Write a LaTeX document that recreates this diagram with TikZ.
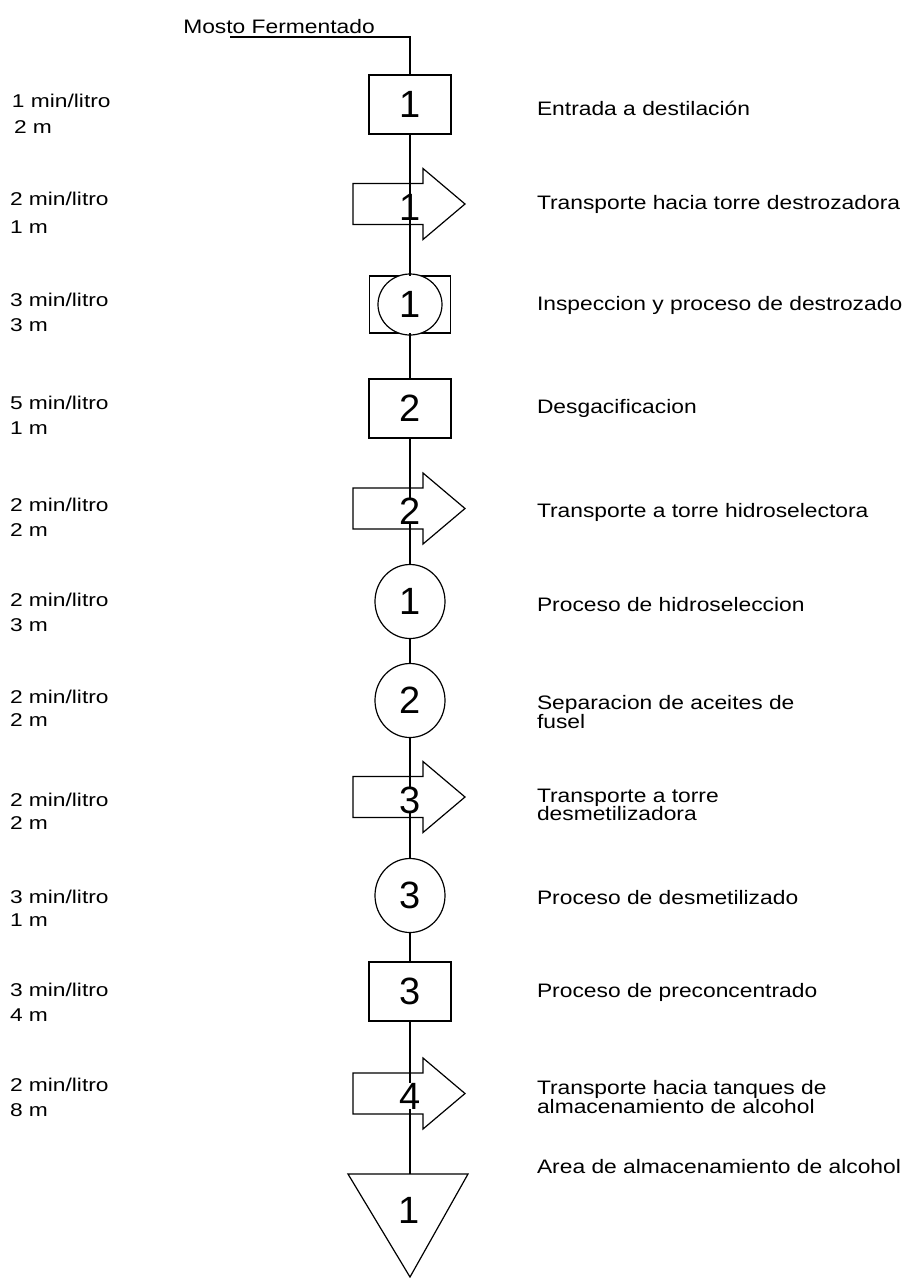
\documentclass[tikz,border=0pt]{standalone}
\usepackage{fontspec}
\setmainfont{Liberation Sans}
\newfontfamily\rightfont[FakeStretch=1.17]{Liberation Sans}
\newfontfamily\leftfont[FakeStretch=1.23]{Liberation Sans}
\usetikzlibrary{shapes.geometric}
\begin{document}
\begin{tikzpicture}[x=1pt,y=-1pt,
  every node/.style={inner sep=0pt, outer sep=0pt},
  lw/.style={line width=1.2pt},
  digitfont/.style={font=\fontsize{38}{38}\selectfont},
  opbox/.style={draw, lw, fill=white, minimum width=82pt, minimum height=59pt, digitfont},
  inspbox/.style={draw, lw, fill=white, minimum width=81pt, minimum height=57pt},
  inspcirc/.style={draw, lw, fill=white, ellipse, minimum width=64pt, minimum height=61pt, digitfont},
  opcirc/.style={draw, lw, fill=white, ellipse, minimum width=70pt, minimum height=74pt, digitfont},
  digit/.style={fill=white, digitfont},
  flow/.style={lw},
  lefttxt/.style={anchor=west, font=\leftfont\fontsize{18.5}{20}\selectfont},
  righttxt/.style={anchor=west, align=left, font=\rightfont\fontsize{19.5}{18.5}\selectfont},
  procarrow/.pic={\draw[lw] (-57,-20.5) -- (13,-20.5) -- (13,-35.5) -- (55,0) -- (13,35.5) -- (13,20.5) -- (-57,20.5) -- cycle;}
]
\useasboundingbox (0,0) rectangle (907,1278);

% title
\node[font=\rightfont\fontsize{19.5}{20}\selectfont] (mosto) at (279,27) {Mosto Fermentado};
\coordinate (start) at (230,37);

% shapes
\node[opbox] (b1) at (410,104.5) {1};
\pic at (410,204) {procarrow};
\node[digit] (a1) at (410,207) {1};
\node[inspbox] (bc1) at (410,304.5) {};
\node[inspcirc] (ic1) at (410,304.5) {1};
\node[opbox] (b2) at (410,408.5) {2};
\pic at (410,508.5) {procarrow};
\node[digit] (a2) at (410,511) {2};
\node[opcirc] (c1) at (410,601.5) {1};
\node[opcirc] (c2) at (410,700.5) {2};
\pic at (410,797) {procarrow};
\node[digit] (a3) at (410,800) {3};
\node[opcirc] (c3) at (410,895.5) {3};
\node[opbox] (b3) at (410,991.5) {3};
\pic at (410,1093.5) {procarrow};
\node[digit] (a4) at (410,1096) {4};
\coordinate (t1top) at (410,1174);
\draw[lw, fill=white] (348,1174) -- (468,1174) -- (410,1277) -- cycle;
\node[digitfont] (t1) at (409,1210) {1};

% flow line
\draw[flow] (start) -| (b1.north);
\draw[flow] (b1) -- (a1);
\draw[flow] (a1) -- (bc1);
\draw[flow] (bc1) -- (b2);
\draw[flow] (b2) -- (a2);
\draw[flow] (a2) -- (c1);
\draw[flow] (c1) -- (c2);
\draw[flow] (c2) -- (a3);
\draw[flow] (a3) -- (c3);
\draw[flow] (c3) -- (b3);
\draw[flow] (b3) -- (a4);
\draw[flow] (a4) -- (t1top);

% left labels
\node[lefttxt] (l1a) at (12,101) {1 min/litro};
\node[lefttxt] (l1b) at (14,127) {2 m};
\node[lefttxt] (l2a) at (10,199) {2 min/litro};
\node[lefttxt] (l2b) at (10,227) {1 m};
\node[lefttxt] (l3a) at (10,300) {3 min/litro};
\node[lefttxt] (l3b) at (10,325) {3 m};
\node[lefttxt] (l4a) at (10,403) {5 min/litro};
\node[lefttxt] (l4b) at (10,428) {1 m};
\node[lefttxt] (l5a) at (10,505) {2 min/litro};
\node[lefttxt] (l5b) at (10,530) {2 m};
\node[lefttxt] (l6a) at (10,600) {2 min/litro};
\node[lefttxt] (l6b) at (10,625) {3 m};
\node[lefttxt] (l7a) at (10,697) {2 min/litro};
\node[lefttxt] (l7b) at (10,720) {2 m};
\node[lefttxt] (l8a) at (10,800) {2 min/litro};
\node[lefttxt] (l8b) at (10,823) {2 m};
\node[lefttxt] (l9a) at (10,897) {3 min/litro};
\node[lefttxt] (l9b) at (10,920) {1 m};
\node[lefttxt] (l10a) at (10,990) {3 min/litro};
\node[lefttxt] (l10b) at (10,1015) {4 m};
\node[lefttxt] (l11a) at (10,1085) {2 min/litro};
\node[lefttxt] (l11b) at (10,1110) {8 m};

% right labels
\node[righttxt] (r1) at (537,108) {Entrada a destilación};
\node[righttxt] (r2) at (537,204) {Transporte hacia torre destrozadora};
\node[righttxt] (r3) at (537,305) {Inspeccion y proceso de destrozado};
\node[righttxt] (r4) at (537,408) {Desgacificacion};
\node[righttxt] (r5) at (537,512) {Transporte a torre hidroselectora};
\node[righttxt] (r6) at (537,605) {Proceso de hidroseleccion};
\node[righttxt] (r7) at (537,712) {Separacion de aceites de\\fusel};
\node[righttxt] (r8) at (537,805) {Transporte a torre\\desmetilizadora};
\node[righttxt] (r9) at (537,898) {Proceso de desmetilizado};
\node[righttxt] (r10) at (537,992) {Proceso de preconcentrado};
\node[righttxt] (r11) at (537,1097) {Transporte hacia tanques de\\almacenamiento de alcohol};
\node[righttxt] (r12) at (537,1167) {Area de almacenamiento de alcohol};
\end{tikzpicture}
\end{document}
